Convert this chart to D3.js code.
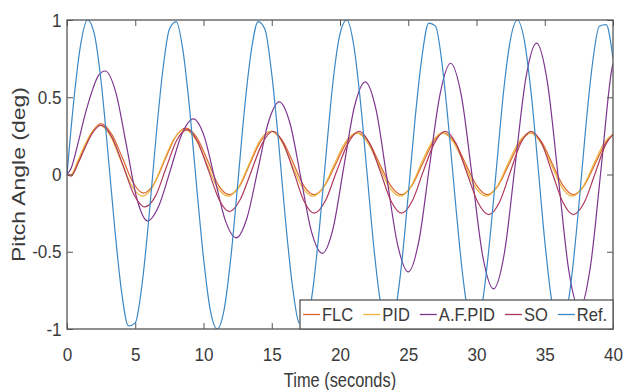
<!DOCTYPE html>
<html>
<head>
<meta charset="utf-8">
<script src="https://cdn.jsdelivr.net/npm/d3@7"></script>
<style>
  body { margin: 0; background: #fff; }
  text { font-family: "Liberation Sans", Arial, sans-serif; fill: #3a3a3a; }
</style>
</head>
<body>
<div id="chart"></div>
<script>
// pitch angle response
var xTicks = [0, 5, 10, 15, 20, 25, 30, 35, 40];
var yTicks = [-1, -0.5, 0, 0.5, 1];
var seriesNames = ["FLC", "PID", "A.F.PID", "SO", "Ref."];
var seriesColors = ["#DA6630", "#EDB43E", "#7E3590", "#AD3A5C", "#3A88C6"];

// reference, sampled every 0.5 s
var refTime = d3.range(0, 40.5, 0.5);
var refVal = [0, 0.48, 0.84, 1.0, 0.91, 0.6, 0.14, -0.35, -0.76, -0.98,
  -0.96, -0.71, -0.28, 0.22, 0.66, 0.94, 0.99, 0.8, 0.41, -0.08,
  -0.54, -0.88, -1.0, -0.88, -0.54, -0.07, 0.42, 0.8, 0.99, 0.94,
  0.65, 0.21, -0.29, -0.71, -0.96, -0.98, -0.75, -0.34, 0.15, 0.61,
  0.91, 1.0, 0.84, 0.47, -0.01, -0.49, -0.85, -1.0, -0.91, -0.59,
  -0.13, 0.36, 0.76, 0.98, 0.96, 0.7, 0.27, -0.22, -0.66, -0.94,
  -0.99, -0.79, -0.4, 0.08, 0.55, 0.88, 1.0, 0.87, 0.53, 0.06,
  -0.43, -0.81, -0.99, -0.93, -0.64, -0.2, 0.3, 0.72, 0.96, 0.97, 0.75];

// [time, angle]
var flc = [[0,0],[0.3,0],[0.8,0.08],[1.3,0.18],[1.8,0.27],[2.5,0.33],
  [3.28,0.26],[4.05,0.11],[4.83,-0.05],[5.6,-0.12],[6.38,-0.06],[7.15,0.09],[7.93,0.24],[8.7,0.3],
  [9.5,0.24],[10.3,0.09],[11.1,-0.07],[11.9,-0.13],[12.68,-0.07],[13.45,0.08],[14.23,0.22],[15.0,0.28],
  [15.78,0.22],[16.55,0.08],[17.33,-0.07],[18.1,-0.13],[18.9,-0.07],[19.7,0.07],[20.5,0.21],[21.3,0.27],
  [22.1,0.21],[22.9,0.07],[23.7,-0.07],[24.5,-0.13],[25.28,-0.07],[26.05,0.07],[26.83,0.21],[27.6,0.27],
  [28.4,0.21],[29.2,0.07],[30.0,-0.07],[30.8,-0.13],[31.6,-0.07],[32.4,0.07],[33.2,0.21],[34.0,0.27],
  [34.78,0.21],[35.55,0.07],[36.33,-0.07],[37.1,-0.13],[37.9,-0.07],[38.7,0.07],[39.5,0.21],[40,0.26]];

var pid = [[0,0],[0.3,0],[0.8,0.09],[1.3,0.19],[1.8,0.27],[2.4,0.32],
  [3.18,0.25],[3.95,0.09],[4.73,-0.07],[5.5,-0.14],[6.28,-0.08],[7.05,0.08],[7.83,0.23],[8.6,0.29],
  [9.4,0.23],[10.2,0.08],[11.0,-0.08],[11.8,-0.14],[12.58,-0.08],[13.35,0.07],[14.13,0.22],[14.9,0.28],
  [15.68,0.22],[16.45,0.07],[17.23,-0.08],[18.0,-0.14],[18.8,-0.08],[19.6,0.07],[20.4,0.21],[21.2,0.27],
  [22.0,0.21],[22.8,0.07],[23.6,-0.08],[24.4,-0.14],[25.18,-0.08],[25.95,0.07],[26.73,0.21],[27.5,0.27],
  [28.3,0.21],[29.1,0.07],[29.9,-0.08],[30.7,-0.14],[31.5,-0.08],[32.3,0.07],[33.1,0.21],[33.9,0.27],
  [34.68,0.21],[35.45,0.07],[36.23,-0.08],[37.0,-0.14],[37.8,-0.08],[38.6,0.07],[39.4,0.21],[40,0.26]];

var afpid = [[0,0],[0.3,0.04],[0.8,0.2],[1.3,0.38],[1.8,0.53],[2.3,0.64],[2.8,0.67],
  [3.58,0.53],[4.35,0.19],[5.13,-0.16],[5.9,-0.3],[6.74,-0.2],[7.58,0.03],[8.41,0.26],[9.25,0.36],
  [10.04,0.25],[10.83,-0.03],[11.61,-0.3],[12.4,-0.41],[13.19,-0.28],[13.98,0.03],[14.76,0.34],[15.55,0.47],
  [16.34,0.33],[17.13,-0.02],[17.91,-0.37],[18.7,-0.51],[19.49,-0.35],[20.28,0.05],[21.06,0.44],[21.85,0.6],
  [22.64,0.42],[23.43,-0.02],[24.21,-0.45],[25.0,-0.63],[25.78,-0.43],[26.55,0.05],[27.33,0.52],[28.1,0.72],
  [28.89,0.51],[29.68,-0.01],[30.46,-0.53],[31.25,-0.74],[32.04,-0.51],[32.83,0.06],[33.61,0.62],[34.4,0.85],
  [35.19,0.6],[35.98,-0.01],[36.76,-0.62],[37.55,-0.87],[38.34,-0.6],[39.13,0.04],[39.91,0.68],[40,0.72]];

var so = [[0,0],[0.3,-0.01],[0.8,0.07],[1.3,0.17],[1.8,0.26],[2.5,0.32],
  [3.3,0.24],[4.1,0.06],[4.9,-0.13],[5.7,-0.21],[6.48,-0.14],[7.25,0.04],[8.03,0.22],[8.8,0.29],
  [9.58,0.21],[10.35,0.03],[11.13,-0.16],[11.9,-0.24],[12.7,-0.16],[13.5,0.02],[14.3,0.2],[15.1,0.28],
  [15.85,0.2],[16.6,0.02],[17.35,-0.17],[18.1,-0.25],[18.93,-0.17],[19.75,0.02],[20.58,0.2],[21.4,0.28],
  [22.18,0.2],[22.95,0.02],[23.73,-0.17],[24.5,-0.25],[25.3,-0.17],[26.1,0.02],[26.9,0.2],[27.7,0.28],
  [28.5,0.2],[29.3,0.01],[30.1,-0.18],[30.9,-0.26],[31.68,-0.18],[32.45,0.01],[33.23,0.2],[34.0,0.28],
  [34.78,0.2],[35.55,0.01],[36.33,-0.18],[37.1,-0.26],[37.9,-0.18],[38.7,0.01],[39.5,0.2],[40,0.26]];

var ref = refTime.map(function(t, i) { return [t, refVal[i]]; });
var allSeries = [flc, pid, afpid, so, ref];

var margin = {top: 20, right: 12, bottom: 61, left: 67},
    width = 625 - margin.left - margin.right,
    height = 390 - margin.top - margin.bottom;

var svg = d3.select("#chart")
  .append("svg")
    .attr("width", 625)
    .attr("height", 390)
  .append("g")
    .attr("transform", "translate(" + margin.left + "," + margin.top + ")");

var x = d3.scaleLinear().domain([0, 40]).range([0, width]);
var y = d3.scaleLinear().domain([-1, 1]).range([height, 0]);

svg.append("clipPath").attr("id", "clip")
  .append("rect").attr("width", width).attr("height", height);

var line = d3.line()
  .x(function(d) { return x(d[0]); })
  .y(function(d) { return y(d[1]); })
  .curve(d3.curveMonotoneX);

svg.append("g").attr("clip-path", "url(#clip)")
  .selectAll("path")
  .data(allSeries)
  .enter()
  .append("path")
    .attr("d", line)
    .attr("fill", "none")
    .attr("stroke", function(d, i) { return seriesColors[i]; })
    .attr("stroke-width", 1.2);

// axes, ticks pointing inward
var axisColor = "#555";
var gx = svg.append("g")
  .attr("transform", "translate(0," + height + ")")
  .call(d3.axisBottom(x).tickValues(xTicks).tickSizeInner(-6).tickSizeOuter(0).tickPadding(19));
var gy = svg.append("g")
  .call(d3.axisLeft(y).tickValues(yTicks).tickSizeInner(-6).tickSizeOuter(0).tickPadding(6)
    .tickFormat(function(d) { return d === 0 ? "0" : String(d); }));
svg.append("g")
  .call(d3.axisTop(x).tickValues(xTicks).tickSizeInner(-6).tickSizeOuter(0).tickFormat(""));
svg.append("g")
  .attr("transform", "translate(" + width + ",0)")
  .call(d3.axisRight(y).tickValues(yTicks).tickSizeInner(-6).tickSizeOuter(0).tickFormat(""));

svg.selectAll(".domain").remove();
svg.selectAll(".tick line").attr("stroke", axisColor);
svg.selectAll(".tick text")
  .style("font-size", "19px")
  .attr("fill", "#444")
  .attr("transform", "scale(0.9,1)");

svg.append("rect")
  .attr("width", width)
  .attr("height", height)
  .attr("fill", "none")
  .attr("stroke", axisColor)
  .attr("stroke-width", 1.3);

// axis titles
svg.append("text")
  .attr("transform", "translate(" + (width / 2) + "," + (height + 58) + ") scale(0.82,1)")
  .attr("text-anchor", "middle")
  .style("font-size", "20px")
  .text("Time (seconds)");

svg.append("text")
  .attr("transform", "translate(" + (19 - margin.left) + "," + (height / 2) + ") scale(0.8,1) rotate(-90)")
  .attr("text-anchor", "middle")
  .attr("dy", "0.35em")
  .style("font-size", "23px")
  .text("Pitch Angle (deg)");

// legend, lower right corner
var legW = 313, legH = 29;
var leg = svg.append("g")
  .attr("transform", "translate(" + (width - legW) + "," + (height - legH) + ")");
leg.append("rect")
  .attr("width", legW)
  .attr("height", legH)
  .attr("fill", "#fff")
  .attr("stroke", axisColor)
  .attr("stroke-width", 1.3);

var cursor = 3;
seriesNames.forEach(function(name, i) {
  leg.append("line")
    .attr("x1", cursor).attr("x2", cursor + 17)
    .attr("y1", legH / 2).attr("y2", legH / 2)
    .attr("stroke", seriesColors[i])
    .attr("stroke-width", 1.3);
  var t = leg.append("text")
    .attr("transform", "translate(" + (cursor + 19) + "," + (legH / 2) + ") scale(0.92,1)")
    .attr("dy", "0.36em")
    .style("font-size", "18px")
    .text(name);
  cursor += 19 + t.node().getComputedTextLength() * 0.92 + 10;
});
</script>
</body>
</html>
